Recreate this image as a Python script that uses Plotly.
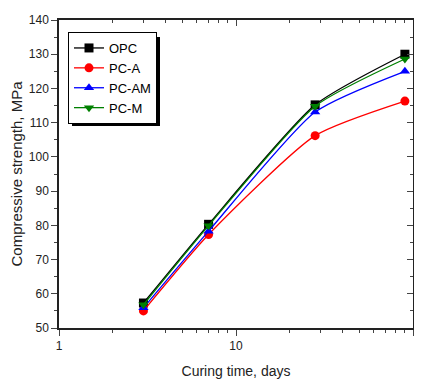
import plotly.graph_objects as go

days = [3, 7, 28, 90]
opc = [57.3, 80.3, 115.2, 130.0]
pc_a = [55.0, 77.3, 106.2, 116.3]
pc_am = [55.9, 78.3, 113.1, 125.0]
pc_m = [56.8, 79.9, 114.8, 128.6]

series = [
    ("OPC", opc, "black", "square"),
    ("PC-A", pc_a, "red", "circle"),
    ("PC-AM", pc_am, "blue", "triangle-up"),
    ("PC-M", pc_m, "green", "triangle-down"),
]

fig = go.Figure()
for name, vals, col, sym in series:
    fig.add_trace(go.Scatter(
        x=days, y=vals, name=name, mode="lines+markers",
        line=dict(color=col, width=1.3, shape="spline", smoothing=0.6),
        marker=dict(color=col, symbol=sym, size=9),
    ))

fig.add_trace(go.Scatter(x=[1, 100], y=[50, 140], xaxis="x2", yaxis="y2",
                         mode="none", showlegend=False, hoverinfo="skip"))

minor_x = [2, 3, 4, 5, 6, 7, 8, 9, 20, 30, 40, 50, 60, 70, 80, 90]

# page offset of 8px (body margin) is compensated in figure size/margins
fig.update_layout(
    width=414, height=371,
    margin=dict(l=51, r=9, t=12, b=51, autoexpand=False),
    paper_bgcolor="white", plot_bgcolor="white",
    font=dict(family="Liberation Sans, Arial, sans-serif", size=12, color="#222"),
    xaxis=dict(type="log", range=[0, 2], tickmode="array", tickvals=[1, 10, 100],
               ticktext=["1", "10", "100"], ticks="outside", ticklen=6, tickwidth=1.3,
               showline=True, linecolor="#222", linewidth=1.5, showgrid=False, zeroline=False,
               automargin=False,
               minor=dict(tickmode="array", tickvals=minor_x, ticks="outside", ticklen=3,
                          tickwidth=1.3, showgrid=False),
               title=dict(text="Curing time, days", font=dict(size=14), standoff=14),
               tickfont=dict(size=12)),
    yaxis=dict(range=[50, 140], tickmode="linear", tick0=50, dtick=10, ticks="outside",
               ticklen=6, tickwidth=1.3, showline=True, linecolor="#222", linewidth=1.5,
               showgrid=False, zeroline=False, automargin=False,
               minor=dict(tickmode="linear", dtick=5, ticks="outside", ticklen=3, tickwidth=1.3,
                          showgrid=False),
               title=dict(text="Compressive strength, MPa", font=dict(size=15), standoff=6),
               tickfont=dict(size=12)),
    xaxis2=dict(type="log", range=[0, 2], overlaying="x", side="top", tickmode="array",
                tickvals=[1, 10, 100], ticks="inside", ticklen=6, tickwidth=1.3,
                showticklabels=False, showline=True, linecolor="#222", linewidth=1.5,
                showgrid=False, zeroline=False, automargin=False,
                minor=dict(tickmode="array", tickvals=minor_x, ticks="inside", ticklen=3,
                           tickwidth=1.3, showgrid=False)),
    yaxis2=dict(range=[50, 140], overlaying="y", side="right", tickmode="linear", tick0=50,
                dtick=10, ticks="inside", ticklen=6, tickwidth=1.3, showticklabels=False,
                showline=True, linecolor="#222", linewidth=1.5, showgrid=False, zeroline=False,
                automargin=False,
                minor=dict(tickmode="linear", dtick=5, ticks="inside", ticklen=3, tickwidth=1.3,
                           showgrid=False)),
    legend=dict(x=(68 - 59) / 354, y=(328 - 32) / 308, xanchor="left", yanchor="top",
                bgcolor="white", bordercolor="black", borderwidth=1,
                font=dict(size=13, color="black"), tracegroupgap=0, itemwidth=30),
    showlegend=True,
)

# legend drop shadow
fig.add_shape(type="rect", xref="paper", yref="paper",
              x0=(72 - 59) / 354, x1=(160 - 59) / 354,
              y0=(328 - 126) / 308, y1=(328 - 37) / 308,
              fillcolor="black", line=dict(width=0), layer="above")

fig.write_html("out.html")
